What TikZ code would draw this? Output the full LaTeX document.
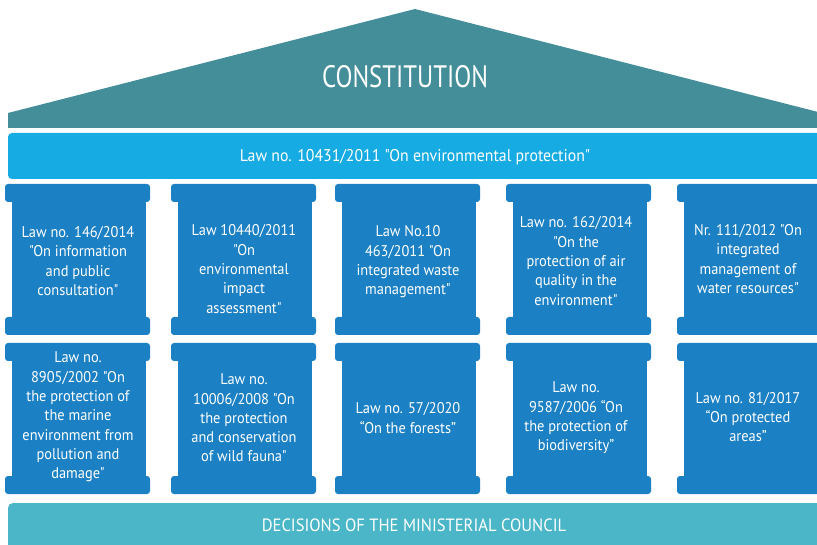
\documentclass[tikz,border=0pt]{standalone}
\usepackage{fontspec}
\newfontfamily\lawfont[FakeStretch=0.93]{PT Sans}
\newfontfamily\narrowfont[FakeStretch=0.8]{PT Sans}
\definecolor{roofteal}{HTML}{438E99}
\definecolor{bandblue}{HTML}{16ABE3}
\definecolor{pillarblue}{HTML}{1B80C4}
\definecolor{baseteal}{HTML}{4AB6C7}
% one column: top cap, shaft, bottom cap
\newcommand{\pillar}[3]{%
  \fill[pillarblue,rounded corners=3] (#1,#2) rectangle ++(145,18);
  \fill[pillarblue,rounded corners=3] (#1,#3) rectangle ++(145,-18);
  \fill[pillarblue] (#1+7,#2+10) rectangle (#1+141,#3-10);
}
\begin{document}
\begin{tikzpicture}[x=1pt,y=-1pt,
    lawtext/.style={text=white,align=center,inner sep=0,font=\lawfont\fontsize{15.5}{19.3}\selectfont},
    bandtext/.style={text=white,inner sep=0,font=\lawfont\fontsize{17}{20}\selectfont}]
  \useasboundingbox (0,0) rectangle (817,545);

  % roof
  \fill[roofteal] (8,128) -- (8,113) -- (415,9) -- (822,113) -- (822,128) -- cycle;
  \node (constitution) [text=white,inner sep=0,font=\narrowfont\fontsize{31}{36}\selectfont]
    at (405,77) {CONSTITUTION};

  \fill[bandblue,rounded corners=4] (8,133) rectangle (830,179);
  \node (envlaw) [bandtext] at (415,157) {Law no. 10431/2011 "On environmental protection"};

  \foreach \x in {5,171,335,506,677} {
    \pillar{\x}{184}{335}
    \pillar{\x}{343}{494}
  }

  % upper row
  \node (info) [lawtext] at (78,261) {Law no. 146/2014\\"On information\\and public\\consultation"};
  \node (impact) [lawtext] at (244,269) {Law 10440/2011\\"On\\environmental\\impact\\assessment"};
  \node (waste) [lawtext] at (408,262) {Law No.10\\463/2011 "On\\integrated waste\\management"};
  \node (air) [lawtext] at (576,261) {Law no. 162/2014\\"On the\\protection of air\\quality in the\\environment"};
  \node (water) [lawtext] at (748,259) {Nr. 111/2012 "On\\integrated\\management of\\water resources"};

  % lower row
  \node (marine) [lawtext] at (78,417) {Law no.\\8905/2002 "On\\the protection of\\the marine\\environment from\\pollution and\\damage"};
  \node (fauna) [lawtext] at (244,418) {Law no.\\10006/2008 "On\\the protection\\and conservation\\of wild fauna"};
  \node (forests) [lawtext] at (408,418) {Law no. 57/2020\\“On the forests”};
  \node (biodiv) [lawtext] at (576,418) {Law no.\\9587/2006 “On\\the protection of\\biodiversity”};
  \node (areas) [lawtext] at (748,417) {Law no. 81/2017\\“On protected\\areas”};

  \fill[baseteal,rounded corners=5] (8,503) rectangle (830,560);
  \node (council) [bandtext,font=\lawfont\fontsize{17.8}{20}\selectfont] at (414,525) {DECISIONS OF THE MINISTERIAL COUNCIL};
\end{tikzpicture}
\end{document}
